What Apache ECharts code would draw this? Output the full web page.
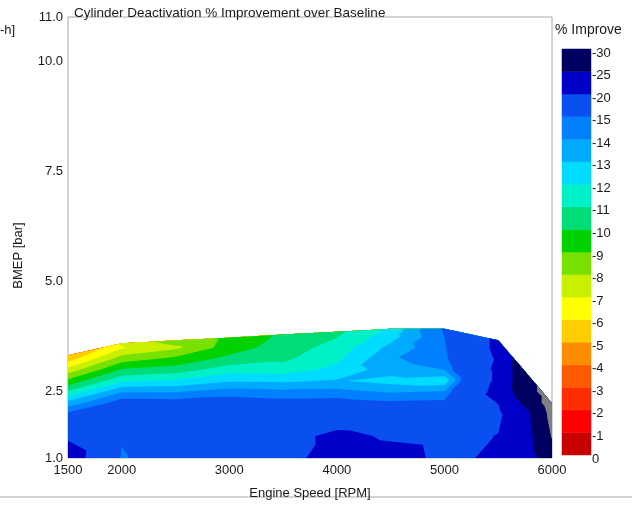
<!DOCTYPE html>
<html>
<head>
<meta charset="utf-8">
<script src="https://cdn.jsdelivr.net/npm/echarts@6/dist/echarts.min.js"></script>
<style>
html,body{margin:0;padding:0;background:#fff;}
#c{width:632px;height:505px;}
</style>
</head>
<body>
<div id="c"></div>
<script>
// ---- data ----
const rpm = [1500, 2000, 2500, 3000, 3500, 4000, 4500, 5000, 5500, 5750, 6000];
const bmep = [1.0, 1.5, 2.0, 2.25, 2.5, 2.75, 3.0, 3.25, 3.5, 3.75, 4.0];
// upper limit of the measured region (max load line) per rpm column
const maxBmep = [3.33, 3.60, 3.67, 3.73, 3.80, 3.86, 3.93, 3.93, 3.67, 2.96, 2.24];
// % improvement, one row per BMEP level, one value per rpm column
const imp_100 = [-22.5, -14.8, -16.5, -16.5, -18.5, -22.0, -21.5, -19.2, -20.6, -22.5, -28.0];
const imp_150 = [-19.3, -15.2, -16.5, -16.8, -18.5, -21.0, -19.5, -19.0, -20.1, -23.0, -30.3];
const imp_200 = [-15.3, -16.8, -16.8, -17.0, -17.0, -17.3, -17.0, -17.5, -19.3, -23.5, -31.5];
const imp_225 = [-13.35, -15.6, -15.5, -15.6, -15.4, -15.5, -15.2, -15.3, -20.1, -26.0, -32.5];
const imp_250 = [-11.15, -13.95, -13.95, -14.5, -14.3, -14.35, -13.9, -14.1, -21.5, -28.0, -32.5];
const imp_275 = [-9.25, -11.8, -12.1, -12.9, -12.8, -13.1, -12.6, -12.3, -21.0, -28.5, -32.5];
const imp_300 = [-7.4, -10.1, -10.5, -11.55, -11.5, -12.3, -13.5, -14.0, -21.0, -28.5, -32.5];
const imp_325 = [-5.5, -8.5, -9.25, -10.3, -10.8, -11.8, -13.85, -14.6, -20.5, -29.0, -32.5];
const imp_350 = [-4.3, -6.9, -7.8, -9.5, -10.5, -11.4, -13.3, -14.8, -21.0, -29.0, -32.5];
const imp_375 = [-3.5, -7.6, -8.9, -9.3, -10.2, -10.95, -12.6, -15.0, -21.0, -29.0, -32.5];
const imp_400 = [-3.0, -8.0, -9.2, -9.3, -10.0, -10.6, -12.0, -15.2, -21.0, -29.0, -32.5];
const improvement = [imp_100, imp_150, imp_200, imp_225, imp_250, imp_275, imp_300, imp_325, imp_350, imp_375, imp_400];

// contour levels (legend labels, bottom to top) and band colours
const levels = [0, -1, -2, -3, -4, -5, -6, -7, -8, -9, -10, -11, -12, -13, -14, -15, -20, -25, -30];
const levelColors = ['#c80000', '#ff0000', '#ff2d00', '#ff5a00', '#ff8c00', '#ffcd00', '#ffff00', '#c8f000', '#78e100',
  '#00d200', '#00dc78', '#00f0c8', '#00dcff', '#00aaff', '#0080ff', '#0a50f0', '#0000c8', '#000060'];
const belowColor = '#808080';

const xTicks = [1500, 2000, 3000, 4000, 5000, 6000];
const yTicks = [1.0, 2.5, 5.0, 7.5, 10.0, 11.0];

// ---- helpers ----
function clip(poly, fn) {
  const out = [];
  const n = poly.length;
  for (let k = 0; k < n; k++) {
    const a = poly[k], b = poly[(k + 1) % n];
    const fa = fn(a), fb = fn(b);
    if (fa >= 0) out.push(a);
    if ((fa >= 0) !== (fb >= 0)) {
      const t = fa / (fa - fb);
      out.push([a[0] + t * (b[0] - a[0]), a[1] + t * (b[1] - a[1]), a[2] + t * (b[2] - a[2])]);
    }
  }
  return out;
}

// layers: region "value <= level" painted from the highest level down,
// the last layer (value <= -30) painted grey
const layers = levels.map((lv, b) => ({ hi: lv, color: b < levelColors.length ? levelColors[b] : belowColor }));

function renderLayer(params, api) {
  const layer = layers[api.value(2)];
  let d = '';
  for (let i = 0; i < rpm.length - 1; i++) {
    const slope = (maxBmep[i + 1] - maxBmep[i]) / (rpm[i + 1] - rpm[i]);
    const hullFn = p => maxBmep[i] + (p[0] - rpm[i]) * slope - p[1];
    for (let j = 0; j < bmep.length - 1; j++) {
      const P = (a, b) => [rpm[a], bmep[b], improvement[b][a]];
      const A = P(i, j), B = P(i + 1, j), C = P(i + 1, j + 1), D = P(i, j + 1);
      [[A, B, C], [A, C, D]].forEach(tri => {
        let poly = clip(tri, hullFn);
        if (poly.length < 3) return;
        poly = clip(poly, p => layer.hi - p[2]);
        if (poly.length < 3) return;
        poly.forEach((p, k) => {
          const c = api.coord([p[0], p[1]]);
          d += (k === 0 ? 'M' : 'L') + c[0].toFixed(2) + ' ' + c[1].toFixed(2);
        });
        d += 'Z';
      });
    }
  }
  if (!d) return null;
  return { type: 'path', shape: { pathData: d }, style: { fill: layer.color }, silent: true };
}

function renderLegendBox(params, api) {
  const b = api.value(2);
  const p0 = api.coord([0, b]);
  const p1 = api.coord([1, b + 1]);
  return {
    type: 'rect',
    shape: { x: p0[0], y: p1[1], width: p1[0] - p0[0], height: p0[1] - p1[1] },
    style: { fill: levelColors[b], stroke: levelColors[b], lineWidth: 0.5 },
    silent: true
  };
}

const font = 'Liberation Sans';
const txt = '#1a1a1a';
const chart = echarts.init(document.getElementById('c'), null, { renderer: 'canvas' });
chart.setOption({
  animation: false,
  backgroundColor: '#fff',
  title: {
    text: 'Cylinder Deactivation % Improvement over Baseline',
    left: 69, top: 1,
    textStyle: { fontSize: 13.5, fontWeight: 'normal', color: txt, fontFamily: font }
  },
  grid: [
    { left: 68, top: 17, width: 484, height: 442, show: true, borderColor: '#a8a8a8', borderWidth: 1, backgroundColor: '#fff' },
    { left: 562, top: 49, width: 29, height: 406, show: false },
    { left: 562, top: 53, width: 29, height: 406, show: false }
  ],
  xAxis: [
    {
      type: 'value', gridIndex: 0, min: 1500, max: 6000,
      name: 'Engine Speed [RPM]', nameLocation: 'middle', nameGap: 29,
      nameTextStyle: { fontSize: 13, color: txt, fontFamily: font },
      axisLine: { show: false }, axisTick: { show: false }, splitLine: { show: false },
      axisLabel: { customValues: xTicks, formatter: v => String(v), fontSize: 13, color: txt, margin: 6, fontFamily: font }
    },
    { type: 'value', gridIndex: 1, min: 0, max: 1, show: false },
    { type: 'value', gridIndex: 2, min: 0, max: 1, show: false }
  ],
  yAxis: [
    {
      type: 'value', gridIndex: 0, min: 1, max: 11,
      name: 'BMEP [bar]', nameLocation: 'middle', nameGap: 43,
      nameTextStyle: { fontSize: 13, color: txt, fontFamily: font, padding: [0, 36, 0, 0] },
      axisLine: { show: false }, axisTick: { show: false }, splitLine: { show: false },
      axisLabel: { customValues: yTicks, formatter: v => Number(v).toFixed(1), fontSize: 13, color: txt, margin: 5, fontFamily: font }
    },
    {
      type: 'value', gridIndex: 1, min: 0, max: levels.length - 1, interval: 1,
      show: false
    },
    {
      type: 'value', gridIndex: 2, min: 0, max: levels.length - 1, interval: 1, position: 'right',
      axisLine: { show: false }, axisTick: { show: false }, splitLine: { show: false },
      axisLabel: { formatter: v => String(levels[v]), fontSize: 13, color: txt, margin: 1, fontFamily: font }
    }
  ],
  graphic: [
    { type: 'text', left: 0, top: 24, style: { text: '-h]', fontSize: 13, fill: txt, fontFamily: font } },
    { type: 'text', left: 555, top: 23, style: { text: '% Improve', fontSize: 14, fill: txt, fontFamily: font } },
    { type: 'rect', left: 0, top: 496, shape: { width: 632, height: 2 }, style: { fill: '#d4d4d4' } }
  ],
  series: [
    {
      type: 'custom', xAxisIndex: 0, yAxisIndex: 0,
      data: layers.map((l, b) => [3750, 2.5, b]),
      encode: { x: 0, y: 1 }, renderItem: renderLayer, clip: true, silent: true
    },
    {
      type: 'custom', xAxisIndex: 1, yAxisIndex: 1,
      data: levelColors.map((c, b) => [0.5, b + 0.5, b]),
      encode: { x: 0, y: 1 }, renderItem: renderLegendBox, silent: true
    }
  ]
});
</script>
</body>
</html>
